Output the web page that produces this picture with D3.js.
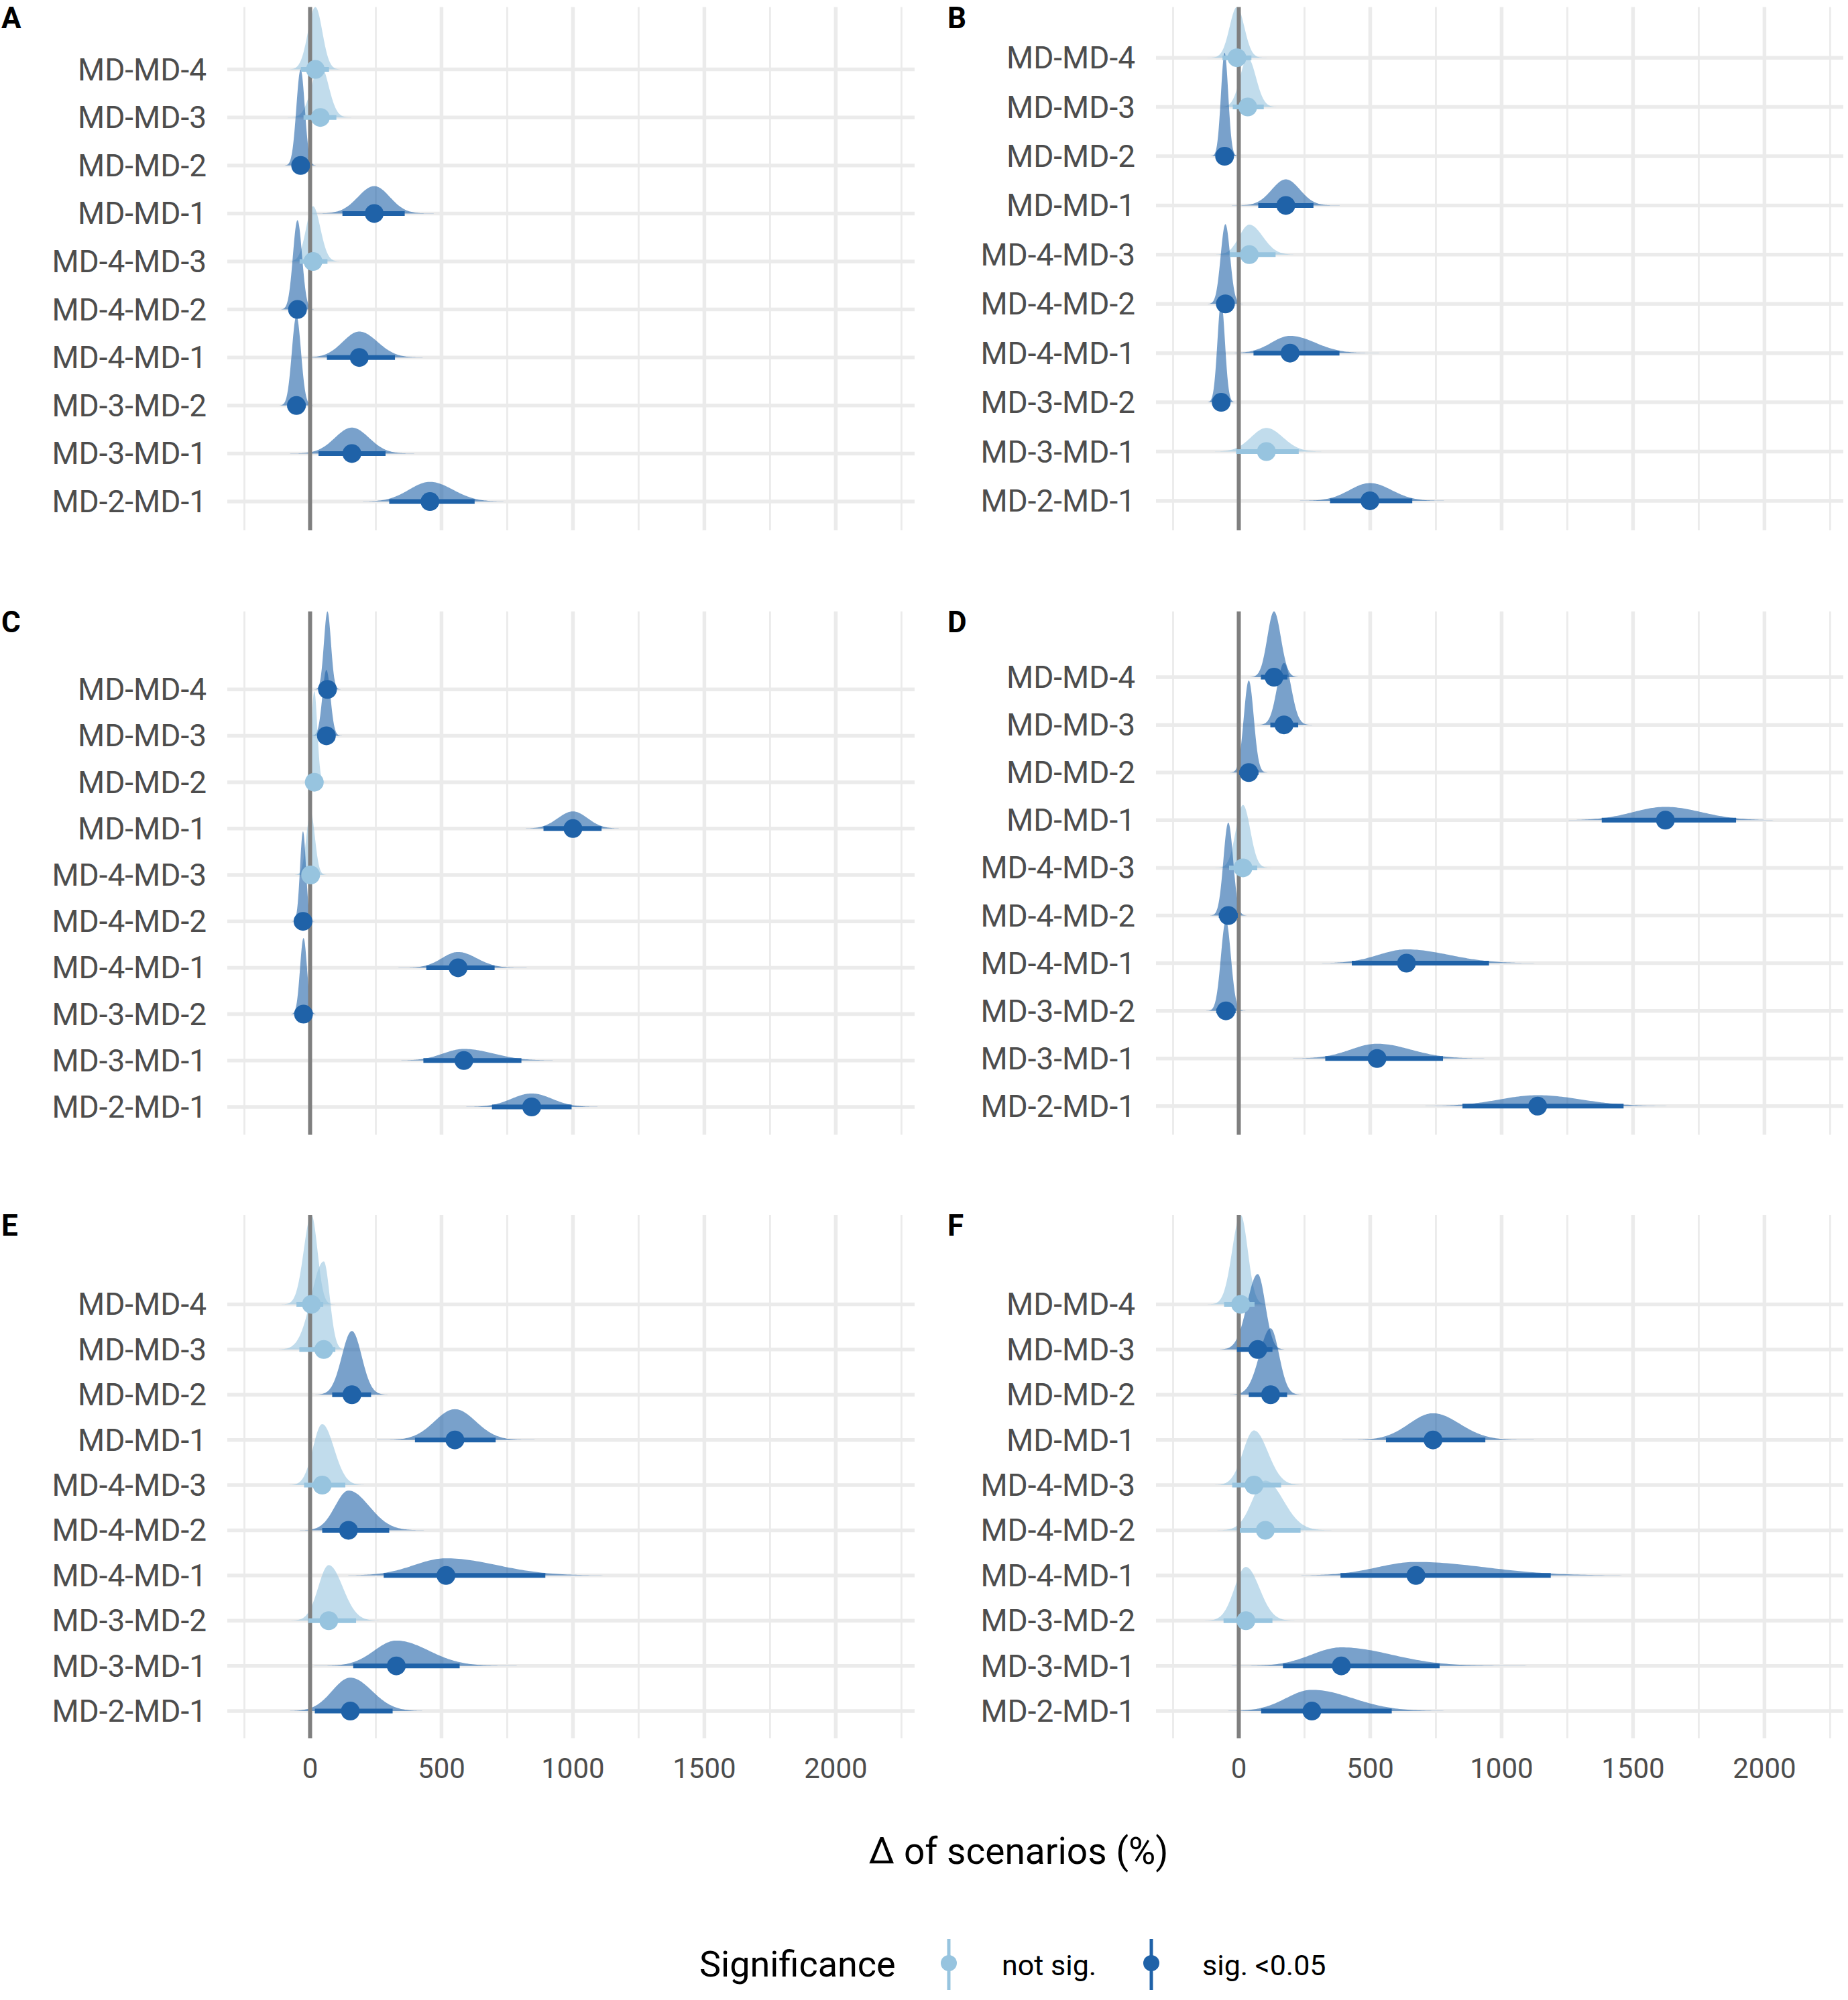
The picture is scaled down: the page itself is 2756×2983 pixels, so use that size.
<!DOCTYPE html>
<html><head><meta charset="utf-8">
<script src="https://cdn.jsdelivr.net/npm/d3@7/dist/d3.min.js"></script>
<style>
body{margin:0;background:#fff}
text{font-family:Roboto,"Noto Sans",sans-serif}
</style>
</head><body>
<svg id="chart" width="2756" height="2983"></svg>
<script>
// ---------- DATA (top-to-bottom order of rows) ----------
const categories = ["MD-MD-4","MD-MD-3","MD-MD-2","MD-MD-1","MD-4-MD-3","MD-4-MD-2","MD-4-MD-1","MD-3-MD-2","MD-3-MD-1","MD-2-MD-1"];
const panelTags = ["A","B","C","D","E","F"];
const xTicks = [0,500,1000,1500,2000];
const xMinorTicks = [-250,250,750,1250,1750,2250];
const sigLabels = ["not sig.","sig. <0.05"];

// medians
const medA = [20, 39, -36, 244, 11, -48, 187, -52, 159, 456];
const medB = [-7, 34, -54, 179, 40, -51, 195, -67, 105, 499];
const medC = [66, 62, 16, 1000, 2, -27, 563, -25, 585, 843];
const medD = [134, 172, 38, 1623, 16, -40, 638, -49, 526, 1137];
const medE = [5, 52, 159, 551, 46, 146, 517, 71, 328, 153];
const medF = [7, 72, 121, 739, 58, 101, 674, 27, 390, 278];
// interval lower bounds
const loA = [-35, -25, -68, 123, -40, -82, 64, -86, 32, 301];
const loB = [-62, -23, -81, 74, -35, -86, 56, -95, -10, 347];
const loC = [40, 32, -6, 888, -30, -49, 442, -51, 431, 692];
const loD = [84, 120, 1, 1381, -37, -76, 430, -86, 329, 851];
const loE = [-52, -41, 84, 399, -23, 46, 280, -7, 164, 18];
const loF = [-56, -7, 38, 560, -25, 4, 387, -58, 168, 85];
// interval upper bounds
const hiA = [72, 100, -5, 360, 66, -14, 323, -18, 287, 626];
const hiB = [48, 95, -27, 284, 140, -16, 383, -39, 228, 660];
const hiC = [92, 92, 38, 1109, 34, -5, 702, 1, 804, 995];
const hiD = [185, 226, 75, 1892, 70, -4, 952, -12, 777, 1464];
const hiE = [50, 96, 232, 706, 134, 301, 895, 175, 569, 314];
const hiF = [60, 128, 184, 938, 161, 235, 1187, 128, 764, 582];
// slab peak heights (in row units)
const hA = [1.3, 1.1, 2.0, 0.57, 1.15, 1.86, 0.54, 1.87, 0.54, 0.41];
const hB = [1.03, 1.0, 2.1, 0.53, 0.61, 1.62, 0.35, 2.05, 0.48, 0.36];
const hC = [1.68, 1.42, 1.96, 0.37, 1.35, 1.94, 0.34, 1.64, 0.25, 0.29];
const hD = [1.38, 1.3, 1.93, 0.28, 1.32, 1.95, 0.29, 1.9, 0.31, 0.23];
const hE = [1.98, 1.95, 1.41, 0.68, 1.35, 0.88, 0.38, 1.23, 0.56, 0.74];
const hF = [1.98, 1.67, 1.47, 0.59, 1.21, 1.1, 0.30, 1.19, 0.41, 0.47];
// significance (1 = sig. <0.05)
const sigA = [0,0,1,1,0,1,1,1,1,1];
const sigB = [0,0,1,1,0,1,1,1,0,1];
const sigC = [1,1,0,1,0,1,1,1,1,1];
const sigD = [1,1,1,1,0,1,1,1,1,1];
const sigE = [0,0,1,1,0,1,1,0,1,1];
const sigF = [0,1,1,1,0,0,1,0,1,1];

const panelsData = [
  {med:medA, lo:loA, hi:hiA, h:hA, sig:sigA},
  {med:medB, lo:loB, hi:hiB, h:hB, sig:sigB},
  {med:medC, lo:loC, hi:hiC, h:hC, sig:sigC},
  {med:medD, lo:loD, hi:hiD, h:hD, sig:sigD},
  {med:medE, lo:loE, hi:hiE, h:hE, sig:sigE},
  {med:medF, lo:loF, hi:hiF, h:hF, sig:sigF}
];

// ---------- LAYOUT / STYLE ----------
const colors = ["#97C4DF", "#1F62A8"];
const slabAlpha = 0.6;
const xDomain = [-315, 2300];
const colLeft = [339, 1724];
const panelW = 1025;
const rowTop = [10.5, 912, 1812];
const panelH = 780.5;
const labelColor = "#4D4D4D";
const gridColor = "#EBEBEB";

const svg = d3.select("#chart");
svg.append("rect").attr("width",2756).attr("height",2983).attr("fill","#fff");

panelsData.forEach((pd, pi) => {
  const col = pi % 2, row = Math.floor(pi / 2);
  const left = colLeft[col], top = rowTop[row], bottom = top + panelH;
  const x = d3.scaleLinear().domain(xDomain).range([left, left + panelW]);
  const n = categories.length;
  const pos = categories.map((c, i) => n - i);
  const yMax = Math.max(n + 0.6, d3.max(pos.map((p, i) => p + pd.h[i])));
  const y = d3.scaleLinear().domain([0.4, yMax]).range([bottom, top]);
  const g = svg.append("g");

  g.selectAll(".vmin").data(xMinorTicks).join("line")
    .attr("x1", d => x(d)).attr("x2", d => x(d))
    .attr("y1", top).attr("y2", bottom)
    .attr("stroke", gridColor).attr("stroke-width", 2.8);
  g.selectAll(".vmaj").data(xTicks).join("line")
    .attr("x1", d => x(d)).attr("x2", d => x(d))
    .attr("y1", top).attr("y2", bottom)
    .attr("stroke", gridColor).attr("stroke-width", 5.5);
  g.selectAll(".hmaj").data(pos).join("line")
    .attr("x1", left).attr("x2", left + panelW)
    .attr("y1", d => y(d)).attr("y2", d => y(d))
    .attr("stroke", gridColor).attr("stroke-width", 5.5);

  g.selectAll(".ylab").data(categories).join("text")
    .attr("x", left - 31).attr("y", (d, i) => y(pos[i]))
    .attr("text-anchor", "end").attr("dominant-baseline", "central")
    .attr("font-size", 46).attr("fill", labelColor).text(d => d);

  const area = d3.area().x(d => x(d[0])).y0(d => d[2]).y1(d => d[1]);
  categories.forEach((c, i) => {
    const m = pd.med[i];
    const sdL = Math.max((m - pd.lo[i]) / 1.96, 1);
    const sdR = Math.max((pd.hi[i] - m) / 1.96, 1);
    const pts = [];
    const N = 160;
    for (let k = 0; k <= N; k++) {
      const t = -4 + 8 * k / N;
      const v = t < 0 ? m + t * sdL : m + t * sdR;
      const dens = pd.h[i] * Math.exp(-0.5 * t * t);
      pts.push([v, y(pos[i] + dens), y(pos[i])]);
    }
    g.append("path").datum(pts).attr("d", area)
      .attr("fill", colors[pd.sig[i]]).attr("fill-opacity", slabAlpha);
  });

  g.append("line").attr("x1", x(0)).attr("x2", x(0))
    .attr("y1", top).attr("y2", bottom)
    .attr("stroke", "#7F7F7F").attr("stroke-width", 6);

  g.selectAll(".intv").data(categories).join("line")
    .attr("x1", (d, i) => x(pd.lo[i])).attr("x2", (d, i) => x(pd.hi[i]))
    .attr("y1", (d, i) => y(pos[i])).attr("y2", (d, i) => y(pos[i]))
    .attr("stroke", (d, i) => colors[pd.sig[i]]).attr("stroke-width", 7);
  g.selectAll(".pt").data(categories).join("circle")
    .attr("cx", (d, i) => x(pd.med[i])).attr("cy", (d, i) => y(pos[i]))
    .attr("r", 14).attr("fill", (d, i) => colors[pd.sig[i]]);

  svg.append("text").attr("x", col === 0 ? 2 : 1413).attr("y", top + 31)
    .attr("font-size", 44).attr("font-weight", "bold").attr("fill", "#000")
    .text(panelTags[pi]);

  if (row === 2) {
    g.selectAll(".xt").data(xTicks).join("text")
      .attr("x", d => x(d)).attr("y", 2652)
      .attr("text-anchor", "middle").attr("font-size", 42)
      .attr("fill", labelColor).text(d => d);
  }
});

svg.append("text").attr("x", 1519).attr("y", 2780).attr("text-anchor", "middle")
  .attr("font-size", 55).attr("fill", "#000").text("Δ of scenarios (%)");

const lg = svg.append("g");
lg.append("text").attr("x", 1043).attr("y", 2948).attr("font-size", 54)
  .attr("fill", "#000").text("Significance");
const keyX = [1415, 1717];
const labX = [1494, 1793];
sigLabels.forEach((lab, k) => {
  lg.append("line").attr("x1", keyX[k]).attr("x2", keyX[k])
    .attr("y1", 2892).attr("y2", 2968).attr("stroke", colors[k]).attr("stroke-width", 5);
  lg.append("circle").attr("cx", keyX[k]).attr("cy", 2928).attr("r", 12).attr("fill", colors[k]);
  lg.append("text").attr("x", labX[k]).attr("y", 2946).attr("font-size", 43)
    .attr("fill", "#000").text(lab);
});
</script>
</body></html>
